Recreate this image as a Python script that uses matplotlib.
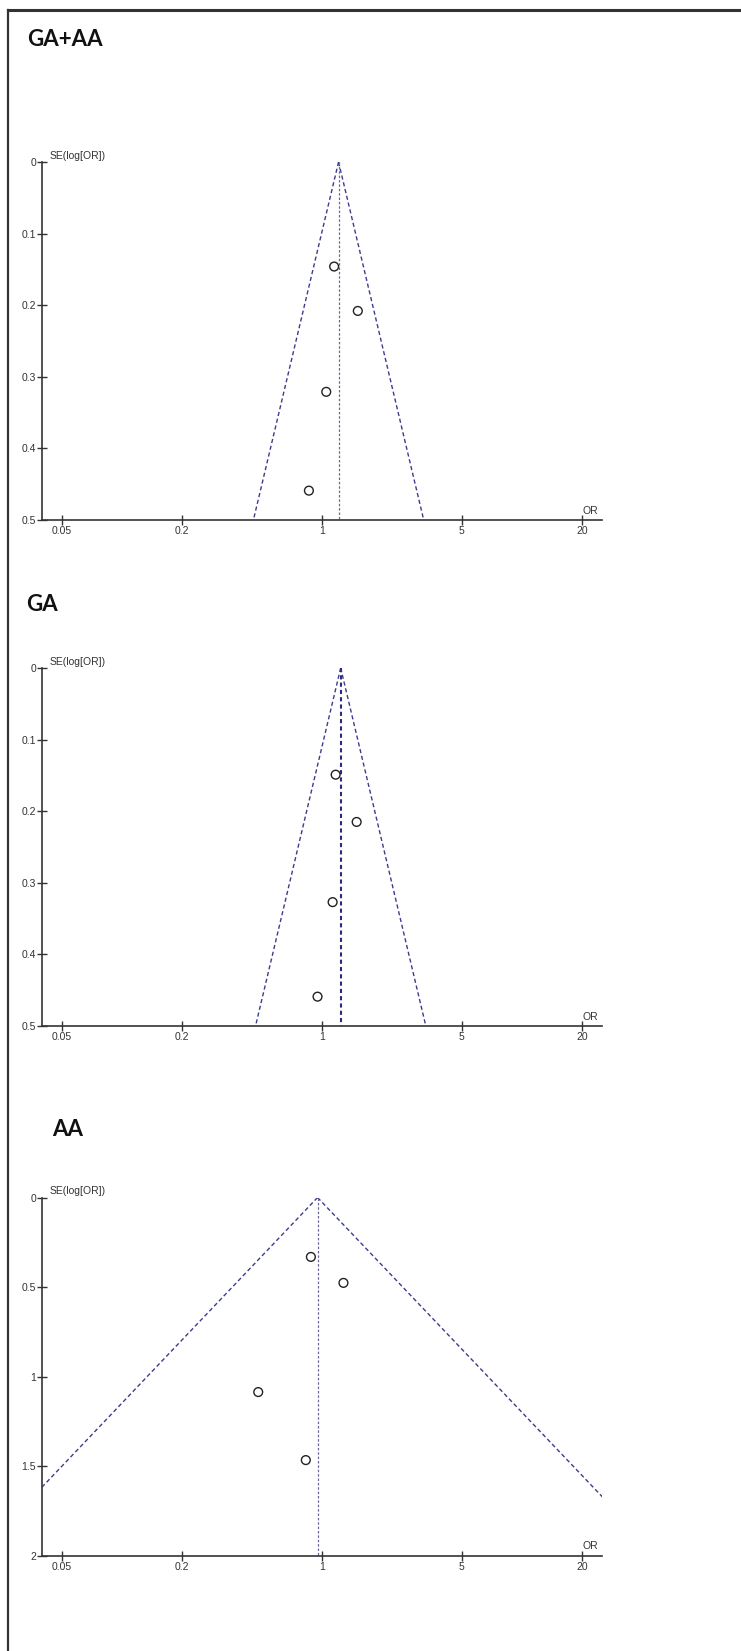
import numpy as np
import matplotlib.pyplot as plt
from matplotlib.lines import Line2D

# odds ratios and standard errors
or_gaaa = [1.15, 1.51, 1.05, 0.86]
se_gaaa = [0.146, 0.208, 0.321, 0.459]
pooled_gaaa = 1.21

or_ga = [1.17, 1.49, 1.13, 0.95]
se_ga = [0.149, 0.215, 0.327, 0.459]
pooled_ga = 1.24

or_aa = [0.88, 1.28, 0.48, 0.83]
se_aa = [0.332, 0.477, 1.087, 1.467]
pooled_aa = 0.95

x_ticks = [0.05, 0.2, 1, 5, 20]
x_labels = ['0.05', '0.2', '1', '5', '20']
y_ticks_small = [0, 0.1, 0.2, 0.3, 0.4, 0.5]
y_labels_small = ['0', '0.1', '0.2', '0.3', '0.4', '0.5']
y_ticks_aa = [0, 0.5, 1, 1.5, 2]
y_labels_aa = ['0', '0.5', '1', '1.5', '2']

FW, FH = 741, 1651
fig = plt.figure(figsize=(FW / 100, FH / 100), dpi=100)

funnel_col = '#3c3c8c'
tick_font = dict(family='Liberation Sans', size=7.5, color='#333333')


def funnel(rect, ors, ses, pooled, se_max, yticks, ylabels, pooled_lw=0.9, pooled_col='#6a6a9a'):
    ax = fig.add_axes(rect)
    ax.set_xscale('log')
    ax.set_xlim(0.04, 25)
    ax.set_ylim(se_max, 0)
    se_line = np.array([0, se_max])
    lo = pooled * np.exp(-1.96 * se_line)
    hi = pooled * np.exp(1.96 * se_line)
    ax.plot(lo, se_line, ls=(0, (3, 2)), color=funnel_col, lw=1.0)
    ax.plot(hi, se_line, ls=(0, (3, 2)), color=funnel_col, lw=1.0)
    ax.plot([pooled, pooled], se_line, ls=(0, (2, 1.5)), color=pooled_col, lw=pooled_lw)
    ax.scatter(ors, ses, s=40, facecolors='none', edgecolors='#222222', linewidths=1.0, zorder=3)

    ax.spines['top'].set_visible(False)
    ax.spines['right'].set_visible(False)
    ax.spines['left'].set_linewidth(1.2)
    ax.spines['bottom'].set_linewidth(1.2)
    ax.spines['left'].set_color('#333333')
    ax.spines['bottom'].set_color('#333333')
    ax.minorticks_off()
    ax.set_xticks(x_ticks)
    ax.set_xticklabels(x_labels, **tick_font)
    ax.set_yticks(yticks)
    ax.set_yticklabels(ylabels, **tick_font)
    ax.tick_params(direction='inout', length=7, width=1, pad=1, color='#333333')
    ax.annotate('SE(log[OR])', xy=(0, 1), xycoords='axes fraction', xytext=(5.5, 1),
                textcoords='offset points', ha='left', va='bottom', **tick_font)
    ax.annotate('OR', xy=(1, 0), xycoords='axes fraction', xytext=(-8, 3),
                textcoords='offset points', ha='center', va='bottom', **tick_font)
    return ax


def rect_px(top, bottom, left=42.3, right=601.7):
    return [left / FW, 1 - bottom / FH, (right - left) / FW, (bottom - top) / FH]


funnel(rect_px(162, 520), or_gaaa, se_gaaa, pooled_gaaa, 0.5, y_ticks_small, y_labels_small)
funnel(rect_px(668, 1026), or_ga, se_ga, pooled_ga, 0.5, y_ticks_small, y_labels_small,
       pooled_lw=1.5, pooled_col='#2a2a80')
funnel(rect_px(1197.5, 1555.5), or_aa, se_aa, pooled_aa, 2, y_ticks_aa, y_labels_aa)

title_font = dict(family='Lato', weight='bold', size=16, color='#111111', va='center', ha='left')
fig.text(27 / FW, 1 - 40 / FH, 'GA+AA', **title_font)
fig.text(26 / FW, 1 - 604 / FH, 'GA', **title_font)
fig.text(52 / FW, 1 - 1130 / FH, 'AA', **title_font)

# frame lines (top and left)
fig.add_artist(Line2D([8 / FW, 1], [1 - 10 / FH, 1 - 10 / FH], color='#333333', lw=2.2))
fig.add_artist(Line2D([8 / FW, 8 / FW], [1 - 10 / FH, 0], color='#333333', lw=1.6))

fig.savefig('out.png', dpi=100)
